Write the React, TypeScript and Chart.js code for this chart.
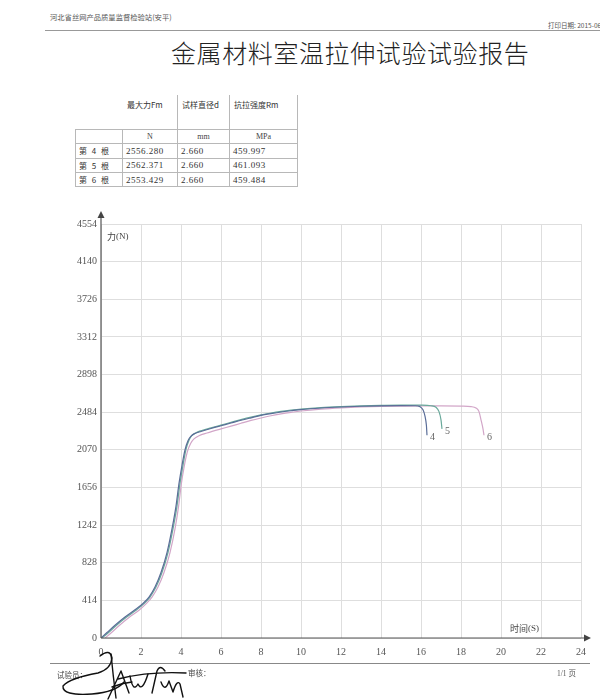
import React, { useEffect, useRef } from "react";
import { Chart, registerables } from "chart.js";

Chart.register(...registerables);

// ---- data ----
const yTickValues = [0, 414, 828, 1242, 1656, 2070, 2484, 2898, 3312, 3726, 4140, 4554];
const xTickValues = [0, 2, 4, 6, 8, 10, 12, 14, 16, 18, 20, 22, 24];
const sampleLabels = ["4", "5", "6"];

const time4 = [0, 0.3, 0.7, 1.2, 1.7, 2.1, 2.4, 2.7, 3.0, 3.3, 3.55, 3.75, 3.9, 4.05, 4.2, 4.35, 4.5, 4.7, 5.0, 5.5, 6, 6.5, 7, 7.5, 8, 8.5, 9, 9.5, 10, 11, 12, 13, 14, 15, 15.7, 15.95, 16.1, 16.2, 16.27, 16.3];
const force4 = [0, 60, 140, 230, 310, 380, 450, 560, 720, 940, 1200, 1450, 1700, 1900, 2070, 2170, 2220, 2250, 2272, 2305, 2335, 2365, 2395, 2422, 2448, 2468, 2486, 2500, 2513, 2530, 2541, 2549, 2554, 2556, 2555, 2545, 2510, 2440, 2340, 2230];

const time5 = [0.05, 0.35, 0.75, 1.25, 1.75, 2.15, 2.45, 2.75, 3.05, 3.35, 3.6, 3.8, 3.95, 4.1, 4.25, 4.4, 4.55, 4.75, 5.0, 5.5, 6, 6.5, 7, 7.5, 8, 8.5, 9, 9.5, 10, 11, 12, 13, 14, 15, 16, 16.5, 16.75, 16.9, 17.0, 17.05];
const force5 = [0, 55, 135, 225, 305, 378, 450, 560, 720, 940, 1200, 1450, 1700, 1900, 2075, 2175, 2228, 2258, 2280, 2312, 2342, 2372, 2402, 2430, 2455, 2475, 2492, 2506, 2518, 2535, 2546, 2554, 2559, 2562, 2561, 2555, 2538, 2490, 2400, 2300];

const time6 = [0.2, 0.5, 0.9, 1.4, 1.9, 2.25, 2.55, 2.85, 3.15, 3.45, 3.7, 3.88, 4.02, 4.17, 4.32, 4.48, 4.65, 4.9, 5.3, 6.0, 6.5, 7, 7.5, 8, 8.5, 9, 9.5, 10, 11, 12, 13, 14, 15, 16, 17, 18, 18.5, 18.75, 18.9, 19.0, 19.1, 19.15];
const force6 = [0, 55, 135, 225, 305, 375, 450, 560, 720, 940, 1200, 1450, 1700, 1900, 2050, 2140, 2190, 2225, 2255, 2300, 2330, 2362, 2393, 2420, 2445, 2465, 2482, 2497, 2518, 2532, 2542, 2548, 2551, 2553, 2553, 2550, 2545, 2530, 2490, 2400, 2300, 2230];

const tableRowNames = ["第 4 根", "第 5 根", "第 6 根"];
const tableMaxForce = ["2556.280", "2562.371", "2553.429"];
const tableDiameter = ["2.660", "2.660", "2.660"];
const tableStrength = ["459.997", "461.093", "459.484"];
const tableHeaders = ["", "最大力Fm", "试样直径d", "抗拉强度Rm"];
const tableUnits = ["", "N", "mm", "MPa"];

const lineColors = ["#5a6d98", "#6aa99b", "#d2a6c8"];

const CJK = '"Noto Sans CJK SC", sans-serif';
const SERIF = '"Liberation Serif", "DejaVu Serif", serif';

const toPoints = (t: number[], f: number[]) => t.map((x, i) => ({ x, y: f[i] }));

const overlayPlugin = {
  id: "overlay",
  afterDraw(chart: any) {
    const ctx = chart.ctx;
    const xs = chart.scales.x;
    const ys = chart.scales.y;
    const x0 = xs.getPixelForValue(0);
    const y0 = ys.getPixelForValue(0);
    const yTop = ys.getPixelForValue(4554);
    const xRight = xs.getPixelForValue(24);
    ctx.save();
    ctx.strokeStyle = "#555";
    ctx.fillStyle = "#444";
    ctx.lineWidth = 1.2;
    // y axis
    ctx.beginPath();
    ctx.moveTo(x0, y0);
    ctx.lineTo(x0, yTop - 8);
    ctx.stroke();
    ctx.beginPath();
    ctx.moveTo(x0, yTop - 13);
    ctx.lineTo(x0 - 3.5, yTop - 6);
    ctx.lineTo(x0 + 3.5, yTop - 6);
    ctx.closePath();
    ctx.fill();
    // x axis
    ctx.beginPath();
    ctx.moveTo(x0, y0);
    ctx.lineTo(xRight + 5, y0);
    ctx.stroke();
    ctx.beginPath();
    ctx.moveTo(xRight + 10, y0);
    ctx.lineTo(xRight + 3, y0 - 3.5);
    ctx.lineTo(xRight + 3, y0 + 3.5);
    ctx.closePath();
    ctx.fill();
    // axis titles
    ctx.fillStyle = "#444";
    ctx.textBaseline = "middle";
    ctx.textAlign = "left";
    ctx.font = `9px ${CJK}`;
    ctx.fillText("力", x0 + 6, yTop + 13);
    ctx.font = `9px ${SERIF}`;
    ctx.fillText("(N)", x0 + 15, yTop + 13);
    ctx.font = `9px ${CJK}`;
    ctx.fillText("时间", xRight - 71, y0 - 9);
    ctx.font = `9px ${SERIF}`;
    ctx.fillText("(S)", xRight - 53, y0 - 9);
    // curve end labels
    ctx.font = `10px ${SERIF}`;
    ctx.fillStyle = "#666";
    chart.data.datasets.forEach((ds: any, i: number) => {
      const last = ds.data[ds.data.length - 1];
      const px = xs.getPixelForValue(last.x);
      const py = ys.getPixelForValue(last.y);
      ctx.fillText(sampleLabels[i], px + 3, py + 2);
    });
    ctx.restore();
  },
};

function ChartCanvas() {
  const ref = useRef<HTMLCanvasElement | null>(null);
  useEffect(() => {
    if (!ref.current) return;
    const chart = new Chart(ref.current, {
      type: "line",
      data: {
        datasets: [
          { label: sampleLabels[0], data: toPoints(time4, force4), borderColor: lineColors[0] },
          { label: sampleLabels[1], data: toPoints(time5, force5), borderColor: lineColors[1] },
          { label: sampleLabels[2], data: toPoints(time6, force6), borderColor: lineColors[2] },
        ].map((d) => ({
          ...d,
          borderWidth: 1.2,
          pointRadius: 0,
          fill: false,
          cubicInterpolationMode: "monotone" as const,
        })),
      },
      options: {
        animation: false,
        responsive: false,
        maintainAspectRatio: false,
        layout: { padding: { left: 60, right: 19, top: 24, bottom: 0 } },
        plugins: { legend: { display: false }, tooltip: { enabled: false } },
        scales: {
          x: {
            type: "linear",
            min: 0,
            max: 24,
            afterBuildTicks: (s: any) => {
              s.ticks = xTickValues.map((v) => ({ value: v }));
            },
            afterFit: (s: any) => {
              s.height = 32;
            },
            grid: { color: "#dedede", lineWidth: 1, drawTicks: false },
            border: { display: false },
            ticks: { color: "#555", font: { family: SERIF, size: 10 }, padding: 8, maxRotation: 0, callback: (v: any) => String(v) },
          },
          y: {
            type: "linear",
            min: 0,
            max: 4554,
            afterBuildTicks: (s: any) => {
              s.ticks = yTickValues.map((v) => ({ value: v }));
            },
            afterFit: (s: any) => {
              s.width = 41;
            },
            grid: { color: "#dedede", lineWidth: 1, drawTicks: false },
            border: { display: false },
            ticks: { color: "#555", font: { family: SERIF, size: 10 }, padding: 4, callback: (v: any) => String(v) },
          },
        },
      },
      plugins: [overlayPlugin],
    });
    return () => chart.destroy();
  }, []);
  return (
    <canvas
      ref={ref}
      width={600}
      height={470}
      style={{ position: "absolute", left: 0, top: 200, width: 600, height: 470 }}
    />
  );
}

const colWidths = [48, 55, 52, 68];
const colLefts = [75, 123, 178, 230];
const dataRowTops = [143, 158, 172];
const dataRowHeights = [15, 14, 15];

function ReportTable() {
  const border = "1px solid #b8b8b8";
  const cells: React.ReactNode[] = [];
  tableHeaders.forEach((h, c) => {
    cells.push(
      <div key={"h" + c} style={{ position: "absolute", left: colLefts[c], top: 95, width: colWidths[c], height: 34, borderRight: c > 0 ? border : "none", boxSizing: "border-box", fontFamily: CJK, fontSize: 8, color: "#333", paddingLeft: 4, paddingTop: 4, whiteSpace: "nowrap" }}>
        {h}
      </div>
    );
  });
  tableUnits.forEach((u, c) => {
    cells.push(
      <div key={"u" + c} style={{ position: "absolute", left: colLefts[c], top: 129, width: colWidths[c], height: 14, borderTop: border, borderRight: border, borderLeft: c === 0 ? border : "none", boxSizing: "border-box", fontFamily: SERIF, fontSize: 8, color: "#444", textAlign: "center", lineHeight: "13px" }}>
        {u}
      </div>
    );
  });
  tableRowNames.forEach((name, r) => {
    const vals = [name, tableMaxForce[r], tableDiameter[r], tableStrength[r]];
    vals.forEach((v, c) => {
      cells.push(
        <div key={"r" + r + c} style={{ position: "absolute", left: colLefts[c], top: dataRowTops[r], width: colWidths[c], height: dataRowHeights[r], borderTop: border, borderRight: border, borderLeft: c === 0 ? border : "none", borderBottom: r === 2 ? border : "none", boxSizing: "border-box", fontFamily: c === 0 ? CJK : SERIF, fontSize: c === 0 ? 8 : 9, letterSpacing: c === 0 ? 1.5 : 0.5, color: "#333", paddingLeft: 3, lineHeight: dataRowHeights[r] - 1 + "px", whiteSpace: "pre" }}>
          {v}
        </div>
      );
    });
  });
  return <>{cells}</>;
}

export default function App() {
  return (
    <div style={{ position: "fixed", left: 0, top: 0, width: 600, height: 700, background: "#fff", overflow: "hidden" }}>
      <div style={{ position: "absolute", left: 50, top: 12, fontFamily: CJK, fontSize: 7.3, color: "#555", whiteSpace: "nowrap" }}>
        河北省丝网产品质量监督检验站(安平)
      </div>
      <div style={{ position: "absolute", left: 548, top: 20, fontFamily: CJK, fontSize: 6.5, color: "#555", whiteSpace: "nowrap" }}>
        打印日期: 2015-06-
      </div>
      <div style={{ position: "absolute", left: 45, top: 30, width: 555, height: 1, background: "#999" }} />
      <div style={{ position: "absolute", left: 171, top: 34, fontFamily: CJK, fontSize: 25, letterSpacing: 0.6, color: "#222", whiteSpace: "nowrap", fontWeight: 300 }}>
        金属材料室温拉伸试验试验报告
      </div>
      <ReportTable />
      <ChartCanvas />
      <div style={{ position: "absolute", left: 50, top: 663, width: 540, height: 1, background: "#888" }} />
      <div style={{ position: "absolute", left: 57, top: 669, fontFamily: CJK, fontSize: 7.5, color: "#444", whiteSpace: "nowrap" }}>试验员：</div>
      <div style={{ position: "absolute", left: 188, top: 667, fontFamily: CJK, fontSize: 7.5, color: "#444", whiteSpace: "nowrap" }}>审核：</div>
      <div style={{ position: "absolute", left: 557, top: 667, fontFamily: SERIF, fontSize: 7.5, color: "#555", whiteSpace: "nowrap" }}>
        1/1 <span style={{ fontFamily: CJK }}>页</span>
      </div>
      <svg width={600} height={700} style={{ position: "absolute", left: 0, top: 0, pointerEvents: "none" }}>
        <g fill="none" stroke="#111" strokeWidth={1.4} strokeLinecap="round" strokeLinejoin="round">
          <path d="M 100 656 Q 110 648 112 658 Q 111 669 98 673 Q 70 678 63 686 Q 62 696 92 694 Q 116 692 124 682" />
          <path d="M 111 654 Q 113 675 116 698" />
          <path d="M 108 699 L 121 671 L 129 693" />
          <path d="M 112 687 Q 122 683 132 682" />
          <path d="M 130 676 Q 133 693 138 684 Q 142 693 148 674" />
          <path d="M 118 679 Q 150 671 186 673" />
          <path d="M 152 693 L 157 671 Q 160 664 165 671" />
          <path d="M 161 682 Q 165 693 169 681 L 173 692 Q 177 679 180 684 L 183 697" />
        </g>
      </svg>
    </div>
  );
}
